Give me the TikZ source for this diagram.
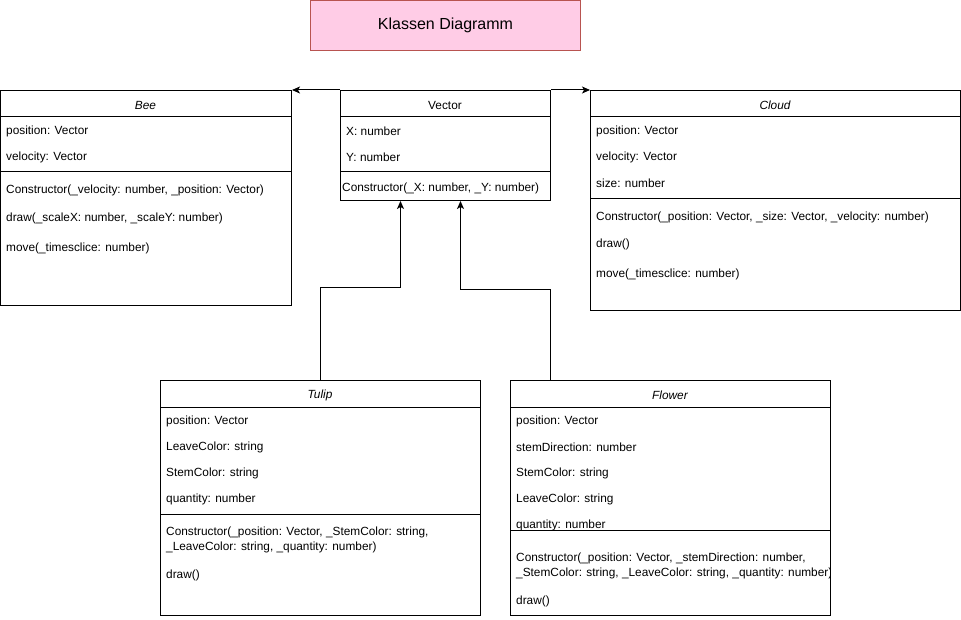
\documentclass[tikz,border=0pt]{standalone}
\usepackage{fontspec}
\setmainfont{Liberation Sans}
\usetikzlibrary{arrows.meta}
\definecolor{titlefill}{HTML}{FFCCE6}
\definecolor{titledraw}{HTML}{B85450}
\tikzset{
  umlbox/.style={draw=black, line width=1pt, anchor=north west, inner sep=0pt, fill=white},
  attr/.style={anchor=west, inner sep=0pt, yshift=-1.6pt, font=\fontsize{11.85}{15}\selectfont, align=left},
  hdr/.style={inner sep=0pt, yshift=-1pt, font=\fontsize{11.85}{15}\selectfont\itshape},
  sep/.style={draw=black, line width=1pt},
  arr/.style={draw=black, line width=1pt, -{Stealth[length=8pt, width=7pt, inset=2pt]}},
}
\begin{document}
\begin{tikzpicture}[x=1pt, y=-1pt]
\useasboundingbox (0,0) rectangle (961,620);

% Title
\node[draw=titledraw, fill=titlefill, line width=1pt, anchor=north west, minimum width=270pt, minimum height=50pt, inner sep=0pt, font=\fontsize{16}{19}\selectfont] (title) at (310,0) {Klassen Diagramm};

% Bee
\node[umlbox, minimum width=291pt, minimum height=215pt] (bee) at (0,90) {};
\node[hdr] (beeh) at (145.5,104) {Bee};
\draw[sep] ([yshift=-27pt]bee.north west) -- ([yshift=-27pt]bee.north east);
\node[attr] (bee1) at (6,130) {position: Vector};
\node[attr] (bee2) at (6,156) {velocity: Vector};
\draw[sep] ([yshift=-82pt]bee.north west) -- ([yshift=-82pt]bee.north east);
\node[attr] (bee3) at (6,189) {Constructor(\_velocity: number, \_position: Vector)};
\node[attr] (bee4) at (6,217) {draw(\_scaleX: number, \_scaleY: number)};
\node[attr] (bee5) at (6,247) {move(\_timesclice: number)};

% Vector
\node[umlbox, minimum width=210pt, minimum height=110pt] (vector) at (340,90) {};
\node[inner sep=0pt, yshift=-1pt, font=\fontsize{11.85}{15}\selectfont] (vech) at (445,104) {Vector};
\draw[sep] ([yshift=-27pt]vector.north west) -- ([yshift=-27pt]vector.north east);
\node[attr] (vec1) at (346,130) {X: number};
\node[attr] (vec2) at (346,156) {Y: number};
\draw[sep] ([yshift=-82pt]vector.north west) -- ([yshift=-82pt]vector.north east);
\node[attr] (vec3) at (342,187) {Constructor(\_X: number, \_Y: number)};

% Cloud
\node[umlbox, minimum width=370pt, minimum height=220pt] (cloud) at (590,90) {};
\node[hdr] (cloudh) at (775,104) {Cloud};
\draw[sep] ([yshift=-27pt]cloud.north west) -- ([yshift=-27pt]cloud.north east);
\node[attr] (cl1) at (596,130) {position: Vector};
\node[attr] (cl2) at (596,156) {velocity: Vector};
\node[attr] (cl3) at (596,182) {size: number};
\draw[sep] ([yshift=-109pt]cloud.north west) -- ([yshift=-109pt]cloud.north east);
\node[attr] (cl4) at (596,216) {Constructor(\_position: Vector, \_size: Vector, \_velocity: number)};
\node[attr] (cl5) at (596,243) {draw()};
\node[attr] (cl6) at (596,273) {move(\_timesclice: number)};

% Tulip
\node[umlbox, minimum width=320pt, minimum height=235pt] (tulip) at (160,380) {};
\node[hdr] (tuliph) at (320,394) {Tulip};
\draw[sep] ([yshift=-27pt]tulip.north west) -- ([yshift=-27pt]tulip.north east);
\node[attr] (tu1) at (166,420) {position: Vector};
\node[attr] (tu2) at (166,446) {LeaveColor: string};
\node[attr] (tu3) at (166,472) {StemColor: string};
\node[attr] (tu4) at (166,498) {quantity: number};
\draw[sep] ([yshift=-134pt]tulip.north west) -- ([yshift=-134pt]tulip.north east);
\node[attr] (tu5) at (166,538.5) {Constructor(\_position: Vector, \_StemColor: string,\\\_LeaveColor: string, \_quantity: number)};
\node[attr] (tu6) at (166,574) {draw()};

% Flower
\node[umlbox, minimum width=320pt, minimum height=235pt] (flower) at (510,380) {};
\node[hdr] (flowerh) at (670,394) {Flower};
\draw[sep] ([yshift=-27pt]flower.north west) -- ([yshift=-27pt]flower.north east);
\node[attr] (fl1) at (516,420) {position: Vector};
\node[attr] (fl2) at (516,446) {stemDirection: number};
\node[attr] (fl3) at (516,472) {StemColor: string};
\node[attr] (fl4) at (516,498) {LeaveColor: string};
\node[attr] (fl5) at (516,524) {quantity: number};
\draw[sep] ([yshift=-150pt]flower.north west) -- ([yshift=-150pt]flower.north east);
\begin{scope}
\clip ([xshift=-2pt]flower.north west) rectangle ([xshift=-2pt]flower.south east);
\node[attr] (fl6) at (516,564.5) {Constructor(\_position: Vector, \_stemDirection: number,\\\_StemColor: string, \_LeaveColor: string, \_quantity: number)};
\end{scope}
\node[attr] (fl7) at (516,600) {draw()};

% Connectors
\draw[arr] (vector.north west) -- (bee.north east);
\draw[arr] (vector.north east) -- (cloud.north west);
\draw[arr] (tulip.north) -- (tulip.north |- 0,288) -| ([xshift=-45pt]vector.south);
\draw[arr] ([xshift=-120pt]flower.north) -- ([xshift=-120pt]flower.north |- 0,290) -| ([xshift=15pt]vector.south);
\end{tikzpicture}
\end{document}
